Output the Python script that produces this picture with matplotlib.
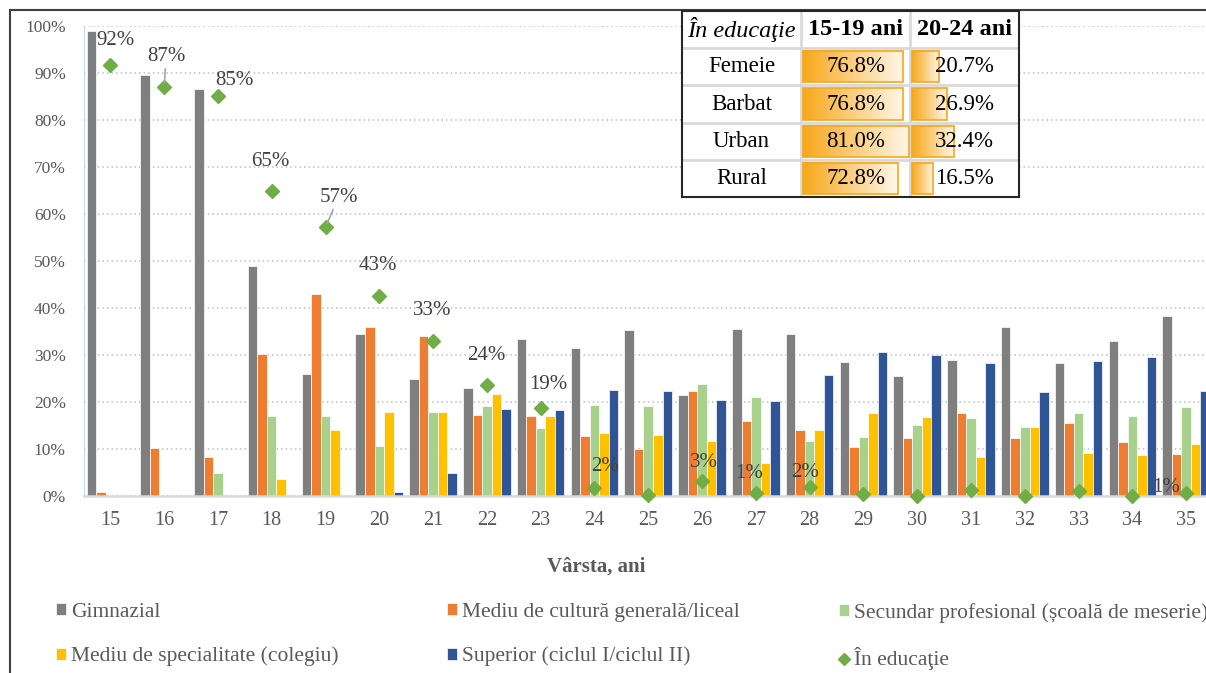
import numpy as np
import matplotlib.pyplot as plt
from matplotlib.colors import LinearSegmentedColormap
from matplotlib.patches import Rectangle
from matplotlib.lines import Line2D

plt.rcParams['font.family'] = ['Liberation Serif', 'DejaVu Serif']

# date
varsta = [str(v) for v in range(15, 36)]
gimnazial = [0.989, 0.895, 0.867, 0.489, 0.259, 0.344, 0.248, 0.230, 0.333, 0.315, 0.353,
             0.215, 0.356, 0.344, 0.285, 0.255, 0.289, 0.360, 0.284, 0.329, 0.383]
liceal = [0.008, 0.102, 0.082, 0.303, 0.430, 0.360, 0.341, 0.172, 0.170, 0.127, 0.099,
          0.224, 0.159, 0.140, 0.104, 0.123, 0.177, 0.123, 0.155, 0.114, 0.089]
profesional = [0.0, 0.0, 0.049, 0.170, 0.170, 0.106, 0.179, 0.192, 0.145, 0.194, 0.192,
               0.238, 0.210, 0.116, 0.125, 0.152, 0.165, 0.147, 0.177, 0.170, 0.189]
colegiu = [0.0, 0.0, 0.0, 0.036, 0.140, 0.179, 0.179, 0.218, 0.170, 0.135, 0.130,
           0.116, 0.070, 0.140, 0.177, 0.168, 0.082, 0.147, 0.091, 0.088, 0.111]
superior = [0.0, 0.0, 0.0, 0.0, 0.0, 0.008, 0.049, 0.185, 0.182, 0.225, 0.223,
            0.205, 0.203, 0.257, 0.306, 0.300, 0.284, 0.221, 0.288, 0.296, 0.223]
in_educatie = [0.917, 0.871, 0.851, 0.649, 0.572, 0.426, 0.330, 0.237, 0.188, 0.016, 0.002,
               0.031, 0.007, 0.020, 0.004, 0.001, 0.013, 0.001, 0.011, 0.001, 0.006]

serii = ['Gimnazial', 'Mediu de cultură generală/liceal', 'Secundar profesional (școală de meserie)',
         'Mediu de specialitate (colegiu)', 'Superior (ciclul I/ciclul II)']
culori = ['#7F7F7F', '#ED7D31', '#A9D18E', '#FFC000', '#2F5597']
verde = '#70AD47'

# etichete: index -> (dx px, dy px, linie de legatura)
etichete = {0: (5, 25, False), 1: (2, 30, True), 2: (17, 16, False), 3: (-1, 29, False),
            4: (13, 30, True), 5: (-1, 30, False), 6: (-1, 30, False), 7: (-1, 29, False),
            8: (8, 23, False), 9: (11, 22, False), 11: (2, 19, False), 12: (-7, 19, False),
            13: (-5, 14, False), 20: (-20, 6, False)}

# tabel
tabel_rand = ['Femeie', 'Barbat', 'Urban', 'Rural']
tabel_col = ['În educaţie', '15-19 ani', '20-24 ani']
ani_15_19 = [76.8, 76.8, 81.0, 72.8]
ani_20_24 = [20.7, 26.9, 32.4, 16.5]

W, H = 1206, 673
fig = plt.figure(figsize=(W / 100, H / 100), dpi=100)
ax = fig.add_axes([84 / W, 177 / H, (1213 - 84) / W, 470 / H])

x = np.arange(len(varsta))
lat = 0.177
date = [gimnazial, liceal, profesional, colegiu, superior]
handles = []
for k, (vals, col, nume) in enumerate(zip(date, culori, serii)):
    b = ax.bar(x + (k - 2) * lat, vals, lat, color=col, edgecolor='white', linewidth=0.5,
               label=nume, zorder=2)
    handles.append(b)
ax.plot(x, in_educatie, linestyle='none', marker='D', color=verde, ms=7.5, zorder=4,
        clip_on=False)

for i, (dx, dy, linie) in etichete.items():
    v = in_educatie[i]
    ap = None
    if linie:
        ap = dict(arrowstyle='-', color='#A6A6A6', lw=1.2, shrinkA=0, shrinkB=3)
    ax.annotate(f'{round(v * 100)}%', xy=(i, v), xytext=(dx * 0.72, dy * 0.72),
                textcoords='offset points', ha='center', va='center', fontsize=15,
                color='#404040', arrowprops=ap, zorder=5)

ax.set_xlim(-0.49, len(varsta) - 0.5)
ax.set_ylim(0, 1.0)
ax.set_xticks(x)
ax.set_xticklabels(varsta)
ax.set_yticks(np.arange(0, 1.01, 0.1))
ax.set_yticklabels([f'{int(round(t * 100))}%' for t in np.arange(0, 1.01, 0.1)])
ax.tick_params(axis='y', length=0, pad=13, labelsize=12.5, labelcolor='#595959')
ax.tick_params(axis='x', length=0, pad=11, labelsize=14.5, labelcolor='#595959')
ax.yaxis.grid(True, linestyle=(0, (1, 2)), color='#BFBFBF', lw=1.1, zorder=0)
ax.set_axisbelow(True)
for s in ['top', 'right']:
    ax.spines[s].set_visible(False)
ax.spines['left'].set_color('#C9D6EC')
ax.spines['bottom'].set_color('#D9D9D9')
ax.spines['bottom'].set_linewidth(1.8)

fig.text(596 / W, 1 - 567 / H, 'Vârsta, ani', ha='center', va='center', fontsize=15,
         fontweight='bold', color='#595959')

# legenda pe 3 coloane
diamant = Line2D([], [], linestyle='none', marker='D', color=verde, ms=6.5)
coloane = [([handles[0], handles[3]], [serii[0], serii[3]], 56),
           ([handles[1], handles[4]], [serii[1], serii[4]], 447),
           ([handles[2], diamant], [serii[2], 'În educaţie'], 839)]
for hs, ls, xp in coloane:
    leg = fig.legend(hs, ls, loc='upper left', bbox_to_anchor=(xp / W, 1 - 603 / H),
                     frameon=False, prop={'family': ['Liberation Serif'], 'size': 15.5},
                     handlelength=0.47, handleheight=0.47,
                     handletextpad=0.23, labelspacing=1.14, borderpad=0, borderaxespad=0)
    for t in leg.get_texts():
        t.set_color('#595959')

# chenar exterior
fig.add_artist(Line2D([10 / W, 10 / W], [0, 1 - 10 / H], color='#404040', lw=1.5))
fig.add_artist(Line2D([10 / W, 1], [1 - 10 / H, 1 - 10 / H], color='#404040', lw=1.5))

# tabel
tax = fig.add_axes([682 / W, 1 - 197 / H, (1019 - 682) / W, (197 - 11) / H], zorder=10)
tax.set_facecolor('white')
col_x = [0, 119, 228, 337]
rh = 186 / 5
cmap = LinearSegmentedColormap.from_list('bara', ['#F7A81B', '#FFF7EA'])
grad = np.linspace(0, 1, 256).reshape(1, -1)
px_pe_proc = 1.31
for j, titlu in enumerate(tabel_col):
    cx = (col_x[j] + col_x[j + 1]) / 2
    if j == 0:
        tax.text(cx, rh / 2, titlu, ha='center', va='center', fontsize=17.5, style='italic')
    else:
        tax.text(cx, rh / 2, titlu, ha='center', va='center', fontsize=17.5, fontweight='bold')
for r, nume in enumerate(tabel_rand):
    y0 = (r + 1) * rh
    tax.text((col_x[0] + col_x[1]) / 2, y0 + rh / 2, nume, ha='center', va='center', fontsize=16.5)
    for j, vals in ((1, ani_15_19), (2, ani_20_24)):
        v = vals[r]
        bx = col_x[j] + 1.5
        bw = v * px_pe_proc
        tax.imshow(grad, extent=[bx, bx + bw, y0 + rh - 3, y0 + 3], cmap=cmap, aspect='auto',
                   zorder=1, interpolation='bilinear')
        tax.add_patch(Rectangle((bx, y0 + 3), bw, rh - 6, fill=False, edgecolor='#F7A81B',
                                lw=1.2, zorder=2))
        tax.text((col_x[j] + col_x[j + 1]) / 2, y0 + rh / 2, f'{v:.1f}%', ha='center',
                 va='center', fontsize=16.5, zorder=3)
for cxl in col_x[1:3]:
    tax.axvline(cxl, color='#D9D9D9', lw=2, zorder=0.5)
for r in range(1, 5):
    tax.axhline(r * rh, color='#D9D9D9', lw=2, zorder=0.5)
tax.set_xlim(0, 337)
tax.set_ylim(186, 0)
tax.set_xticks([])
tax.set_yticks([])
for s in tax.spines.values():
    s.set_color('#262626')
    s.set_linewidth(1.5)

fig.savefig('out.png', dpi=100)
